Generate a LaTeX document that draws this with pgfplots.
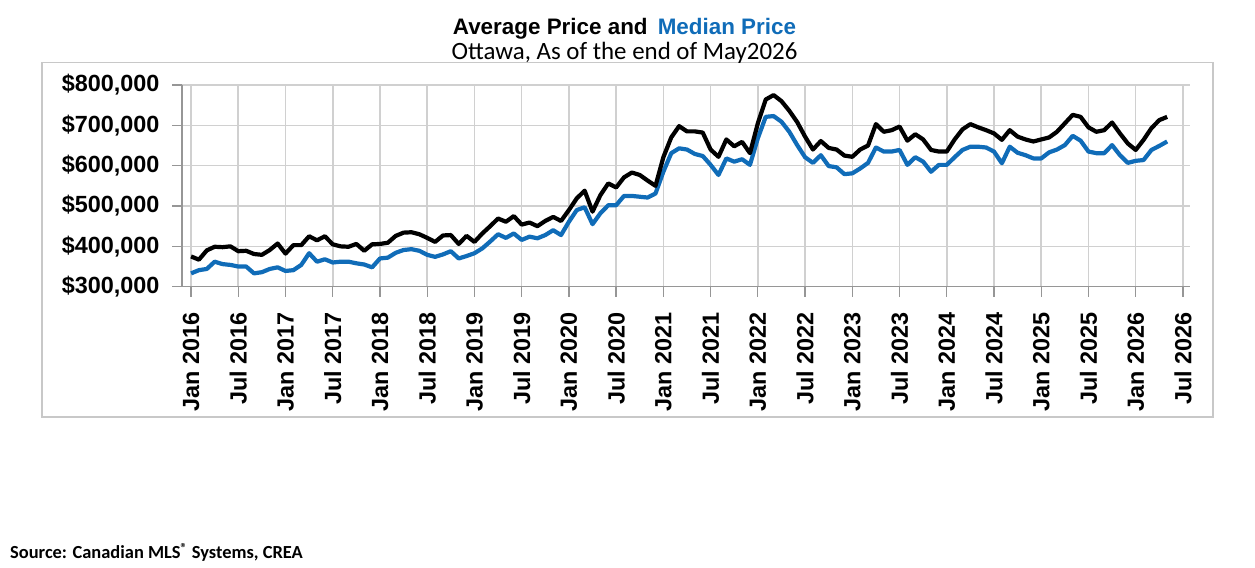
\documentclass[border=0pt]{standalone}
\usepackage{pgfplots}
\pgfplotsset{compat=1.18}
\usepackage{pgfplotstable}
\usepackage{fontspec}
\setmainfont{Liberation Sans}
\newfontfamily\calibri{Carlito}
\definecolor{medblue}{RGB}{16,108,184}
\definecolor{gridgray}{RGB}{208,208,208}
\definecolor{axisgray}{RGB}{150,150,150}
\definecolor{framegray}{RGB}{200,200,200}

% m = months since Jan 2016; avg and med in thousands of dollars
\pgfplotstableread{
m avg med
0 375 333
1 367 341
2 390 344
3 399 362
4 398 356
5 400 354
6 388 350
7 389 350
8 381 333
9 379 336
10 391 344
11 407 348
12 382 339
13 403 341
14 403 354
15 425 383
16 415 362
17 425 368
18 405 360
19 400 362
20 399 362
21 406 358
22 389 355
23 405 348
24 406 370
25 409 372
26 426 384
27 434 391
28 435 393
29 430 389
30 421 379
31 411 374
32 427 380
33 428 388
34 406 370
35 426 376
36 411 383
37 432 395
38 450 412
39 469 430
40 461 421
41 475 432
42 454 416
43 459 424
44 450 420
45 463 428
46 473 440
47 463 428
48 490 461
49 519 490
50 538 497
51 486 455
52 527 482
53 556 502
54 546 502
55 571 525
56 583 525
57 577 523
58 563 521
59 550 531
60 621 585
61 670 631
62 698 643
63 685 640
64 685 629
65 682 624
66 640 602
67 622 577
68 665 618
69 648 610
70 659 616
71 631 602
72 705 668
73 764 721
74 775 723
75 760 709
76 736 684
77 708 651
78 672 621
79 640 607
80 661 626
81 644 599
82 640 596
83 625 579
84 622 581
85 640 593
86 650 607
87 703 645
88 684 635
89 688 635
90 697 639
91 662 602
92 678 621
93 665 610
94 639 585
95 635 602
96 635 602
97 665 621
98 690 639
99 703 647
100 695 647
101 688 645
102 680 635
103 664 606
104 688 647
105 672 632
106 665 626
107 660 618
108 665 618
109 670 633
110 684 640
111 705 651
112 726 674
113 721 662
114 695 635
115 684 631
116 688 631
117 707 651
118 680 626
119 655 607
120 639 612
121 664 614
122 693 639
123 713 649
124 721 660
}\prices

\begin{document}
\begin{tikzpicture}
\useasboundingbox (0,0) rectangle (1255bp,568bp);
\draw[framegray, line width=1.5bp] (42bp,151bp) rectangle (1213bp,505.5bp);
\begin{axis}[
  at={(182bp,281.3bp)}, anchor=south west,
  scale only axis, width=1008bp, height=201.7bp,
  xmin=-1.15, xmax=126.9, ymin=300, ymax=800,
  xtick={0,6,...,126},
  xticklabels={Jan 2016,Jul 2016,Jan 2017,Jul 2017,Jan 2018,Jul 2018,Jan 2019,Jul 2019,Jan 2020,Jul 2020,Jan 2021,Jul 2021,Jan 2022,Jul 2022,Jan 2023,Jul 2023,Jan 2024,Jul 2024,Jan 2025,Jul 2025,Jan 2026,Jul 2026},
  ytick={300,400,500,600,700,800},
  yticklabels={{\$300,000},{\$400,000},{\$500,000},{\$600,000},{\$700,000},{\$800,000}},
  grid=major, major grid style={gridgray, line width=1.6bp},
  axis x line*=bottom, axis y line*=left,
  axis line style={axisgray, line width=1.3bp},
  tick align=outside, major tick length=10bp,
  tick style={axisgray, line width=1.3bp},
  tick label style={font=\fontsize{23.5}{28}\selectfont\bfseries},
  xticklabel style={rotate=90, anchor=east},
  xticklabel shift=12bp, yticklabel shift=9bp,
  /pgf/number format/assume math mode=true,
]
\addplot[medblue, line width=4.2bp, line join=round] table[x=m, y=med] {\prices};
\addplot[black, line width=4.2bp, line join=round] table[x=m, y=avg] {\prices};
\end{axis}
\node[anchor=base, font=\fontsize{22.5}{27}\selectfont\bfseries] at (624.5bp,533bp) {Average Price and\hspace{0.45em}\textcolor{medblue}{Median Price}};
\node[anchor=base, font=\calibri\fontsize{25}{30}\selectfont] at (624.5bp,508bp) {Ottawa, As of the end of May2026};
\node[anchor=base west, inner sep=0pt, font=\calibri\bfseries\fontsize{18.5}{22}\selectfont] at (10bp,9.7bp) {Source: Canadian MLS\textsuperscript{®} Systems, CREA};
\end{tikzpicture}
\end{document}
